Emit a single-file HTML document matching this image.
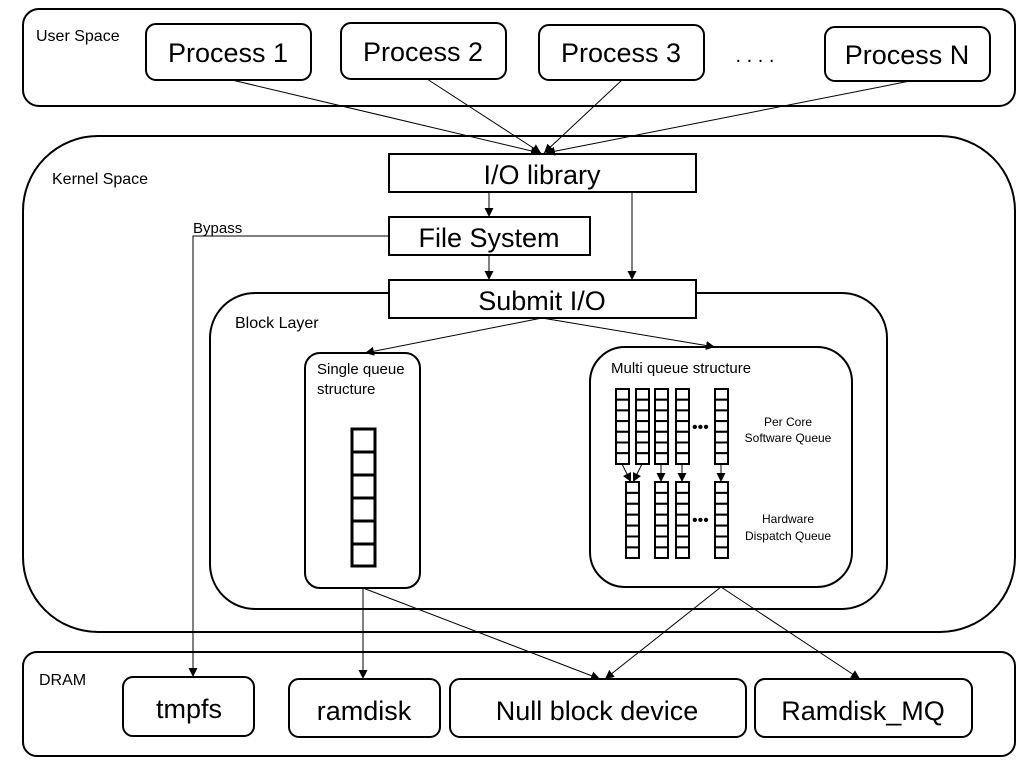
<!DOCTYPE html>
<html><head><meta charset="utf-8"><style>
html,body{margin:0;padding:0;background:#fff;}
svg{display:block}
text{font-family:"Liberation Sans","Noto Sans CJK KR",sans-serif;fill:#000}
</style></head><body>
<svg width="1024" height="764" viewBox="0 0 1024 764" xmlns="http://www.w3.org/2000/svg">
<defs>
<marker id="a" viewBox="0 0 10 10" refX="10" refY="5" markerWidth="9" markerHeight="9" markerUnits="userSpaceOnUse" orient="auto"><path d="M0,0 L10,5 L0,10 z" fill="#000"/></marker>
</defs>
<g fill="none" stroke="#000" stroke-width="2">
<rect x="23" y="9" width="992" height="97" rx="16"/>
<rect x="146" y="24" width="165" height="56" rx="10"/>
<rect x="341" y="23" width="165" height="56" rx="10"/>
<rect x="539" y="25" width="165" height="55" rx="10"/>
<rect x="825" y="27" width="165" height="54" rx="10"/>
<rect x="23" y="136" width="992" height="496" rx="75"/>
<rect x="210" y="293" width="677" height="316" rx="45"/>
<rect x="305" y="353" width="115" height="235" rx="15"/>
<rect x="590" y="347" width="262" height="240" rx="35"/>
<rect x="23" y="652" width="992" height="104" rx="14"/>
<rect x="123" y="677" width="131" height="59" rx="10"/>
<rect x="289" y="679" width="151" height="58" rx="10"/>
<rect x="450" y="679" width="296" height="58" rx="10"/>
<rect x="755" y="679" width="217" height="58" rx="10"/>
</g>
<g fill="#fff" stroke="#000" stroke-width="2">
<rect x="389" y="154" width="307" height="38"/>
<rect x="389" y="217" width="201" height="38"/>
<rect x="389" y="280" width="307" height="38"/>
</g>
<g stroke="#000" stroke-width="1" fill="none" marker-end="url(#a)">
<line x1="232" y1="80" x2="540" y2="153"/>
<line x1="427" y1="79" x2="541" y2="153"/>
<line x1="622" y1="80" x2="544" y2="153"/>
<line x1="910" y1="81" x2="546" y2="153"/>
<line x1="489" y1="192" x2="489" y2="217"/>
<line x1="489" y1="255" x2="489" y2="280"/>
<line x1="632" y1="192" x2="632" y2="280"/>
<line x1="542" y1="318" x2="365" y2="353"/>
<line x1="542" y1="318" x2="715" y2="347"/>
<polyline points="389,236 193,236 193,677"/>
<line x1="363" y1="588" x2="363" y2="679"/>
<line x1="363" y1="588" x2="600" y2="679"/>
<line x1="721" y1="587" x2="605" y2="679"/>
<line x1="721" y1="587" x2="860" y2="679"/>
</g>
<!-- single queue -->
<g fill="#fff" stroke="#000" stroke-width="3">
<rect x="352" y="429" width="23" height="23"/>
<rect x="352" y="452" width="23" height="23"/>
<rect x="352" y="475" width="23" height="23"/>
<rect x="352" y="498" width="23" height="23"/>
<rect x="352" y="521" width="23" height="23"/>
<rect x="352" y="544" width="23" height="22"/>
</g>
<!-- multi queue -->
<g fill="#fff" stroke="#000" stroke-width="2" id="sw">
<g id="c1"><rect x="616" y="389" width="13" height="10.7"/><rect x="616" y="399.7" width="13" height="10.7"/><rect x="616" y="410.4" width="13" height="10.7"/><rect x="616" y="421.1" width="13" height="10.7"/><rect x="616" y="431.8" width="13" height="10.7"/><rect x="616" y="442.5" width="13" height="10.7"/><rect x="616" y="453.2" width="13" height="10.8"/></g>
<use href="#c1" x="20"/><use href="#c1" x="39"/><use href="#c1" x="60"/><use href="#c1" x="99"/>
<g id="h1"><rect x="626" y="482" width="13" height="10.9"/><rect x="626" y="492.9" width="13" height="10.9"/><rect x="626" y="503.8" width="13" height="10.9"/><rect x="626" y="514.7" width="13" height="10.9"/><rect x="626" y="525.6" width="13" height="10.9"/><rect x="626" y="536.5" width="13" height="10.9"/><rect x="626" y="547.4" width="13" height="10.6"/></g>
<use href="#h1" x="29"/><use href="#h1" x="50"/><use href="#h1" x="89"/>
</g>
<g stroke="#000" stroke-width="1" marker-end="url(#a)">
<line x1="622" y1="464" x2="631" y2="482"/>
<line x1="642" y1="464" x2="633" y2="482"/>
<line x1="661" y1="464" x2="661" y2="482"/>
<line x1="682" y1="464" x2="682" y2="482"/>
<line x1="721" y1="464" x2="721" y2="482"/>
</g>
<text x="692" y="432" font-size="16">•••</text>
<text x="692" y="525" font-size="16">•••</text>
<text x="788" y="426" font-size="12" text-anchor="middle">Per Core</text>
<text x="788" y="442" font-size="12" text-anchor="middle">Software Queue</text>
<text x="788" y="523" font-size="12" text-anchor="middle">Hardware</text>
<text x="788" y="540" font-size="12" text-anchor="middle">Dispatch Queue</text>
<text x="611" y="373" font-size="15">Multi queue structure</text>
<text x="317" y="374" font-size="15">Single queue</text>
<text x="317" y="394" font-size="15">structure</text>
<text x="36" y="41" font-size="16">User Space</text>
<text x="52" y="184" font-size="16">Kernel Space</text>
<text x="235" y="328" font-size="16">Block Layer</text>
<text x="193" y="233" font-size="15">Bypass</text>
<text x="39" y="685" font-size="16">DRAM</text>
<g font-size="27" text-anchor="middle">
<text x="228" y="62">Process 1</text>
<text x="423" y="61">Process 2</text>
<text x="621" y="62">Process 3</text>
<text x="907" y="64">Process N</text>
<text x="755" y="62" font-size="20">. . . .</text>
<text x="542" y="184">I/O library</text>
<text x="489" y="247">File System</text>
<text x="542" y="310">Submit I/O</text>
<text x="189" y="718">tmpfs</text>
<text x="364" y="720">ramdisk</text>
<text x="597" y="720">Null block device</text>
<text x="863" y="720">Ramdisk_MQ</text>
</g>
</svg>
</body></html>
